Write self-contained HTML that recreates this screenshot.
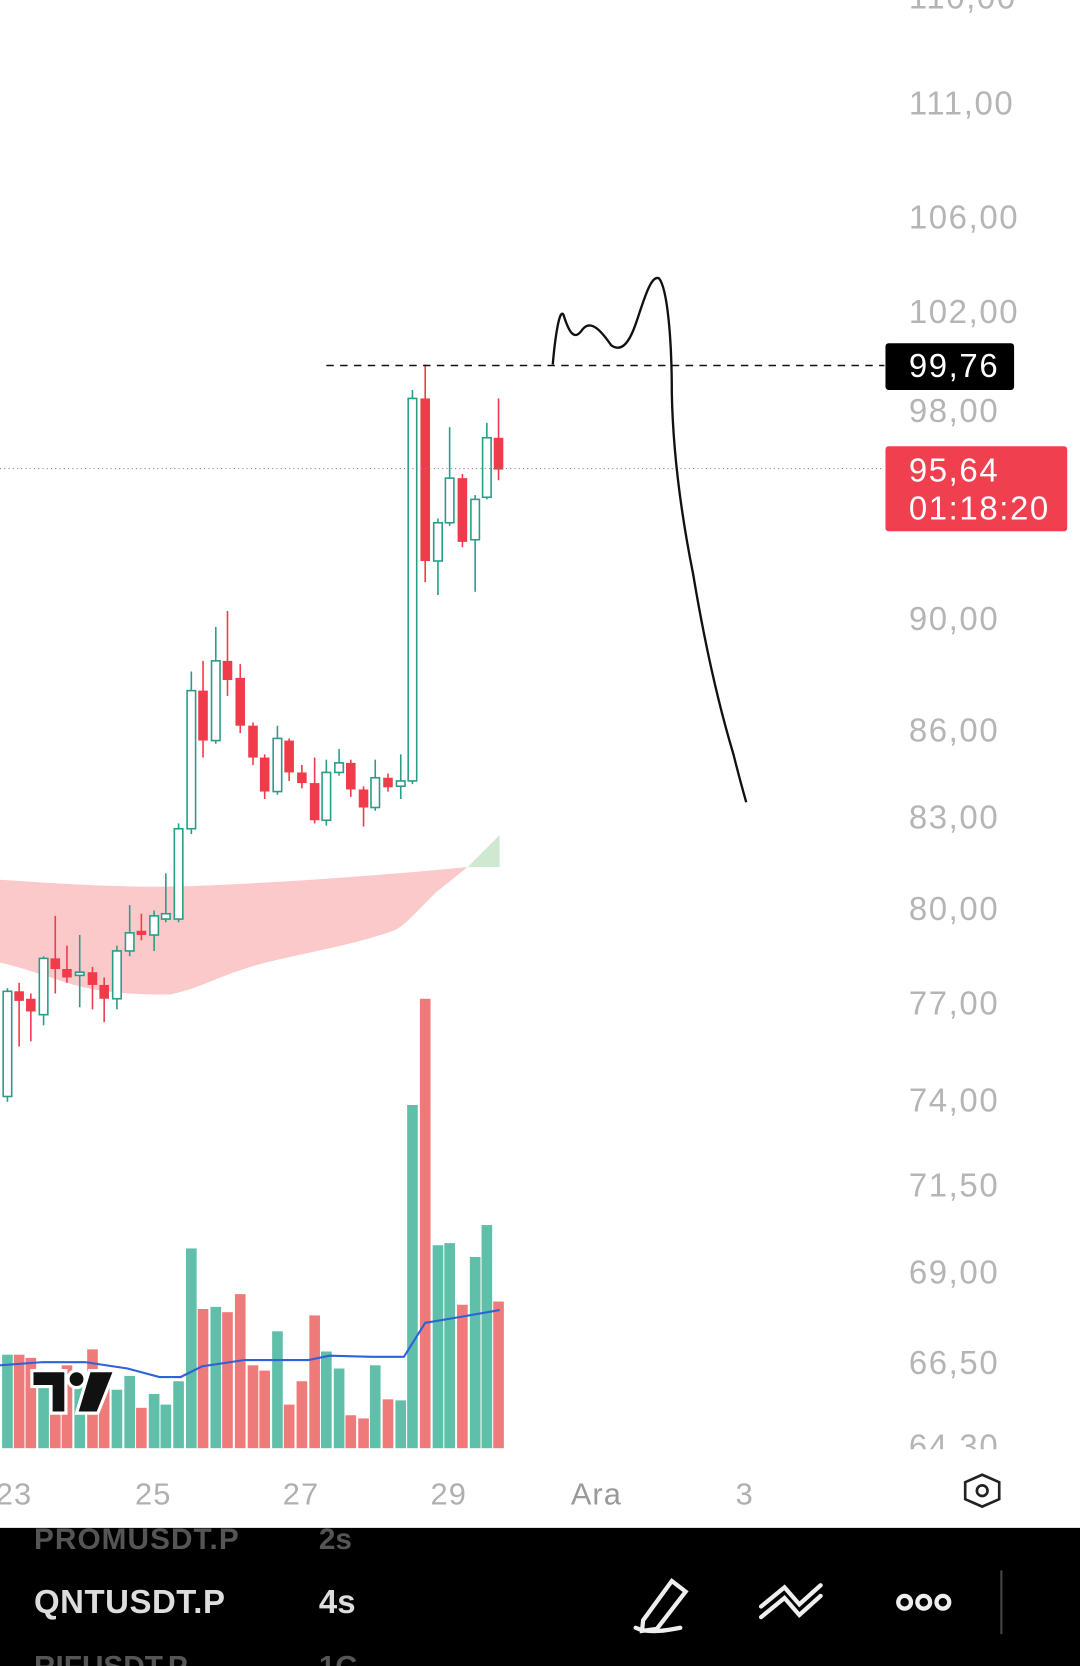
<!DOCTYPE html>
<html><head><meta charset="utf-8"><style>
html,body{margin:0;padding:0;background:#fff;width:1080px;height:1666px;overflow:hidden}
svg{display:block}
text{font-family:"Liberation Sans",sans-serif}
</style></head><body>
<svg id="s" width="1080" height="1666" viewBox="0 0 1016 1568" preserveAspectRatio="none" xmlns="http://www.w3.org/2000/svg">
<rect width="1016" height="1568" fill="#fff"/>
<path d="M0,828 C60,832 120,836 180,834 C280,830 380,822 440,816 L410,840 C390,860 380,872 370,876 C330,890 290,896 250,906 C210,916 190,930 160,936 C120,936 90,934 60,924 C30,914 10,908 0,906 Z" fill="#fbc9c9"/>
<path d="M440,816 L470,786 L470,816 Z" fill="#cfe8d0"/>
<g id="c"></g>
<g id="v"></g>
<polyline points="0,1285 40,1282 80,1282 120,1288 150,1296 170,1296 190,1286 230,1280 290,1280 310,1276 350,1277 380,1277 400,1245 430,1240 470,1233" fill="none" stroke="#2e62d8" stroke-width="2"/>
<line x1="307" y1="344" x2="832" y2="344" stroke="#111" stroke-width="1.5" stroke-dasharray="7,6"/>
<line x1="0" y1="441" x2="832" y2="441" stroke="#888" stroke-width="1" stroke-dasharray="1,3"/>
<path d="M520,343 C522,320 526,290 530,296 C535,312 540,322 548,310 C556,300 566,312 575,325 C585,332 592,322 598,305 C605,285 612,258 620,262 C628,272 632,320 632,370 C633,420 640,480 652,540 C662,600 675,660 690,710 C695,730 700,748 702,755" fill="none" stroke="#111" stroke-width="2.2"/>
<g fill="#b5b5b5" font-size="31" letter-spacing="1.5">
<text x="855" y="8">110,00</text>
<text x="855" y="108">111,00</text>
<text x="855" y="215">106,00</text>
<text x="855" y="304">102,00</text>
<text x="855" y="397">98,00</text>
<text x="855" y="593">90,00</text>
<text x="855" y="698">86,00</text>
<text x="855" y="780">83,00</text>
<text x="855" y="866">80,00</text>
<text x="855" y="955">77,00</text>
<text x="855" y="1046">74,00</text>
<text x="855" y="1126">71,50</text>
<text x="855" y="1208">69,00</text>
<text x="855" y="1293">66,50</text>
<text x="855" y="1372">64,30</text>
</g>
<rect x="0" y="1364" width="1016" height="20" fill="#fff"/>
<rect x="833" y="323" width="121" height="44" rx="3" fill="#000"/>
<text x="855" y="355" fill="#fff" font-size="31" letter-spacing="1.5">99,76</text>
<rect x="833" y="420" width="171" height="80" rx="3" fill="#f0404f"/>
<text x="855" y="453" fill="#fff" font-size="31" letter-spacing="1.5">95,64</text>
<text x="855" y="489" fill="#fff" font-size="31" letter-spacing="1.5">01:18:20</text>
<g fill="#b0b0b0" font-size="29" letter-spacing="1">
<text x="-4" y="1416">23</text><text x="127" y="1416">25</text><text x="266" y="1416">27</text><text x="405" y="1416">29</text>
<text x="537" y="1416" fill="#999">Ara</text><text x="692" y="1416">3</text>
</g>
<polygon points="924,1388 940,1395 940,1411 924,1418 908,1411 908,1395" fill="none" stroke="#222" stroke-width="2.5"/>
<circle cx="924" cy="1403" r="5" fill="none" stroke="#222" stroke-width="2.5"/>
<g fill="#111" stroke="#fff" stroke-width="3">
<path d="M30,1290 H62 V1330 H48 V1305 H30 Z"/>
<circle cx="72" cy="1298" r="8"/>
<path d="M84,1290 H108 L92,1330 H72 Z"/>
</g>
<rect x="0" y="1438" width="1016" height="130" fill="#000"/>
<text x="32" y="1458" fill="#555" font-size="28" font-weight="bold" letter-spacing="1">PROMUSDT.P</text>
<text x="300" y="1458" fill="#555" font-size="28" font-weight="bold">2s</text>
<text x="32" y="1518" fill="#ddd" font-size="31" font-weight="bold" letter-spacing="0.5">QNTUSDT.P</text>
<text x="300" y="1518" fill="#ddd" font-size="31" font-weight="bold">4s</text>
<text x="32" y="1578" fill="#555" font-size="28" font-weight="bold">RIFUSDT.P</text>
<text x="300" y="1578" fill="#555" font-size="28" font-weight="bold">1G</text>
<g stroke="#eee" stroke-width="4" fill="none" stroke-linecap="round">
<path d="M605,1525 L632,1488 L645,1498 L618,1533 L604,1535 Z"/>
<path d="M598,1532 C610,1538 630,1534 640,1532"/>
<path d="M716,1512 L738,1494 L752,1510 L772,1492"/>
<path d="M716,1522 L738,1504 L752,1520 L772,1502"/>
</g>
<g fill="none" stroke="#eee" stroke-width="4"><circle cx="851" cy="1508" r="6"/><circle cx="869" cy="1508" r="6"/><circle cx="887" cy="1508" r="6"/></g>
<line x1="942" y1="1478" x2="942" y2="1538" stroke="#444" stroke-width="2"/>
</svg>
<script>
var C=[[7,'g',933,1032,930,1037],[18,'r',933,942,925,985],[29,'r',940,952,935,980],[41,'g',902,955,900,965],[52,'r',902,912,862,935],[63,'r',912,920,890,925],[75,'g',915,918,880,948],[87,'r',915,927,910,950],[98,'r',927,940,920,962],[110,'g',895,940,890,950],[122,'g',878,895,852,900],[133,'r',876,880,860,885],[145,'g',862,880,857,895],[156,'g',860,865,822,868],[168,'g',780,865,775,868],[180,'g',650,780,632,785],[191,'r',650,697,622,713],[203,'g',622,697,590,700],[214,'r',622,640,575,655],[226,'r',638,683,625,690],[238,'r',683,713,680,720],[249,'r',713,745,710,752],[261,'g',695,745,683,748],[272,'r',697,727,695,735],[284,'r',727,737,720,742],[296,'r',737,772,713,775],[307,'g',727,772,715,777],[319,'g',718,727,705,730],[330,'r',718,743,715,750],[342,'r',743,760,740,778],[353,'g',732,760,715,763],[365,'r',732,741,728,745],[377,'g',735,740,710,752],[388,'g',375,735,367,738],[400,'r',375,528,343,548],[412,'g',492,528,488,560],[423,'g',450,492,402,495],[435,'r',450,510,446,515],[447,'g',470,508,466,557],[458,'g',412,468,398,470],[469,'r',412,442,375,452]];
var V=[1275,1275,1278,1290,1300,1285,1300,1270,1300,1308,1295,1325,1312,1322,1300,1175,1232,1230,1235,1218,1285,1290,1253,1322,1300,1238,1272,1288,1332,1335,1285,1317,1318,1040,940,1172,1170,1228,1183,1153,1225];
var ns='http://www.w3.org/2000/svg',c=document.getElementById('c'),v=document.getElementById('v');
function el(p,t,a){var e=document.createElementNS(ns,t);for(var k in a)e.setAttribute(k,a[k]);p.appendChild(e);}
C.forEach(function(d,i){var col=d[1]=='g'?'#2a9d86':'#ef3b4a';
el(c,'line',{x1:d[0],x2:d[0],y1:d[4],y2:d[5],stroke:col,'stroke-width':1.5});
if(d[1]=='g')el(c,'rect',{x:d[0]-4,y:d[2],width:8,height:Math.max(2,d[3]-d[2]),fill:'#fff',stroke:col,'stroke-width':1.5});
else el(c,'rect',{x:d[0]-4.5,y:d[2],width:9,height:Math.max(2,d[3]-d[2]),fill:col});
var vc=d[1]=='g'?'#5fbfa8':'#ef7a7a';
el(v,'rect',{x:d[0]-5,y:V[i],width:10,height:1363-V[i],fill:vc});});
</script>
</body></html>
